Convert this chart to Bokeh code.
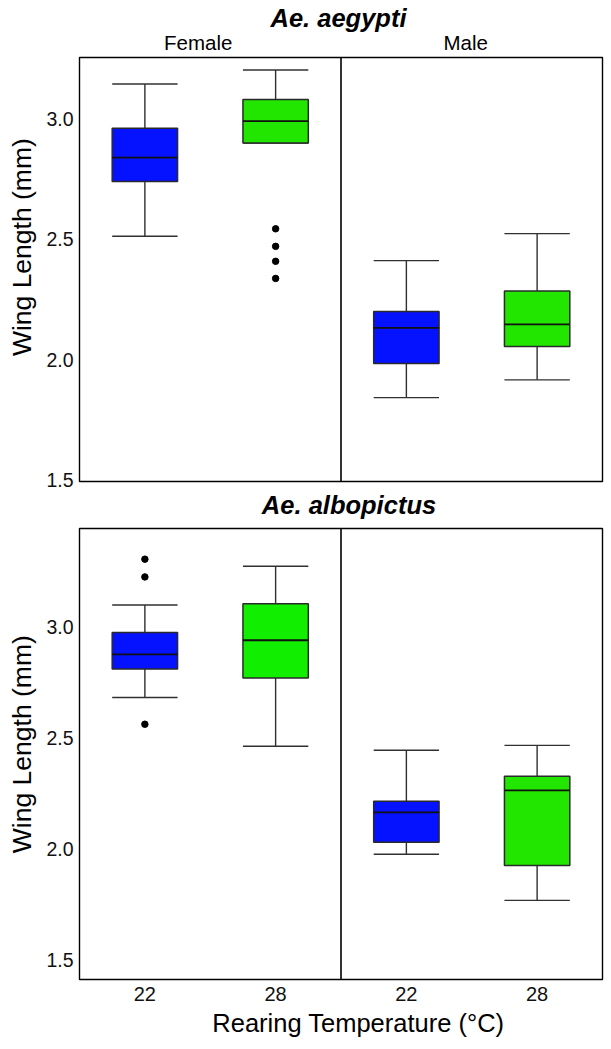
import math
from bokeh.plotting import figure
from bokeh.layouts import column, row
from bokeh.models import ColumnDataSource, Range1d, FixedTicker, Span, PrintfTickFormatter
from bokeh.core.properties import value
from bokeh.embed import file_html
from bokeh.resources import INLINE

# ---------------- data ----------------
sexes = ["Female", "Female", "Male", "Male"]
temps = ["22", "28", "22", "28"]
species = ["Ae. aegypti", "Ae. albopictus"]
y_title = "Wing Length (mm)"
x_title = "Rearing Temperature (°C)"
y_ticks = [1.5, 2.0, 2.5, 3.0]

# Ae. aegypti
aeg_upper = [3.144, 3.202, 2.411, 2.523]
aeg_q3 = [2.960, 3.080, 2.200, 2.285]
aeg_median = [2.838, 2.990, 2.132, 2.146]
aeg_q1 = [2.739, 2.899, 1.984, 2.054]
aeg_lower = [2.512, 2.899, 1.842, 1.916]
aeg_out_group = [1, 1, 1, 1]
aeg_out_value = [2.543, 2.470, 2.408, 2.337]

# Ae. albopictus
alb_upper = [3.099, 3.273, 2.445, 2.467]
alb_q3 = [2.975, 3.104, 2.215, 2.328]
alb_median = [2.876, 2.940, 2.165, 2.264]
alb_q1 = [2.811, 2.770, 2.031, 1.926]
alb_lower = [2.682, 2.463, 1.977, 1.769]
alb_out_group = [0, 0, 0]
alb_out_value = [3.305, 3.225, 2.562]

# ---------------- styling / layout ----------------
aeg_colors = ["#0512FF", "#22E600", "#0512FF", "#22E600"]
alb_colors = ["#0512FF", "#12EE00", "#0512FF", "#22E600"]
FONT = "Liberation Sans"
W = 611
STRIP_L = 40              # width of the strip holding the y title
LEFT, RIGHT = 79, 9       # page x of the frame's left edge, right margin
FRAME_W = W - LEFT - RIGHT
NG = len(temps)
X_RANGE = (0.0, float(NG))
PX = FRAME_W / NG          # pixels per x unit
BOX_W = 0.5
PAD = 2

# vertical page geometry
F1_TOP, F1_BOT = 57, 481
F2_TOP, F2_BOT = 528, 979
P1_BOTTOM_BORDER = 10
P2_BOTTOM_BORDER = 30
PAGE_H = 1049

xs = [i + 0.5 for i in range(NG)]


def make_panel(upper, q3, med, q1, lower, out_g, out_v, colors, yr, frame_h, bottom, show_x):
    p = figure(width=W - STRIP_L, height=frame_h + PAD + bottom, output_backend="svg",
               toolbar_location=None, title_location=None,
               x_range=Range1d(*X_RANGE), y_range=Range1d(*yr),
               x_axis_location="below" if show_x else None,
               min_border_left=LEFT - STRIP_L, min_border_right=RIGHT,
               min_border_top=PAD, min_border_bottom=bottom)
    p.xgrid.visible = False
    p.ygrid.visible = False
    p.outline_line_color = "black"
    p.outline_line_width = 1.4
    p.background_fill_color = "white"
    p.border_fill_color = "white"

    src = ColumnDataSource(dict(
        x=xs, xl=[x - BOX_W / 2 for x in xs], xr=[x + BOX_W / 2 for x in xs],
        upper=upper, q3=q3, med=med, q1=q1, lower=lower, color=colors))

    wk = dict(source=src, line_color="#303030", line_width=1.4)
    p.segment(x0="x", y0="q3", x1="x", y1="upper", **wk)
    p.segment(x0="x", y0="q1", x1="x", y1="lower", **wk)
    p.segment(x0="xl", y0="upper", x1="xr", y1="upper", **wk)
    p.segment(x0="xl", y0="lower", x1="xr", y1="lower", **wk)
    p.vbar(x="x", width=BOX_W, top="q3", bottom="q1", source=src,
           fill_color="color", line_color="#2a2a2a", line_width=1.5)
    p.segment(x0="xl", y0="med", x1="xr", y1="med", source=src, line_color="#111111", line_width=1.8)

    osrc = ColumnDataSource(dict(x=[g + 0.5 for g in out_g], y=out_v))
    p.scatter(x="x", y="y", source=osrc, size=6.5, color="black")

    p.add_layout(Span(location=X_RANGE[1] / 2, dimension="height", line_color="black", line_width=1.6))

    ya = p.yaxis[0]
    ya.ticker = FixedTicker(ticks=y_ticks)
    ya.formatter = PrintfTickFormatter(format="%.1f")
    ya.major_label_text_font = FONT
    ya.major_label_text_font_size = "19.5px"
    ya.major_label_text_color = "#111111"
    ya.major_tick_out = 0
    ya.major_tick_in = 0
    ya.minor_tick_out = 0
    ya.minor_tick_in = 0
    ya.axis_line_color = None
    ya.major_label_standoff = 6

    if show_x:
        xa = p.xaxis[0]
        xa.ticker = FixedTicker(ticks=xs)
        xa.major_label_overrides = {x: t for x, t in zip(xs, temps)}
        xa.major_label_text_font = FONT
        xa.major_label_text_font_size = "20px"
        xa.major_label_text_color = "#111111"
        xa.major_tick_out = 0
        xa.major_tick_in = 0
        xa.minor_tick_out = 0
        xa.minor_tick_in = 0
        xa.axis_line_color = None
        xa.major_label_standoff = 7
    return p


def strip(width, page_top, page_bottom, xr):
    # a text-only strip whose y data coordinate equals the page pixel row
    s = figure(width=width, height=page_bottom - page_top, output_backend="svg",
               toolbar_location=None, title_location=None,
               x_range=Range1d(*xr), y_range=Range1d(page_bottom, page_top),
               x_axis_location=None, y_axis_location=None, min_border=0)
    s.grid.visible = False
    s.outline_line_color = None
    s.background_fill_color = "white"
    s.border_fill_color = "white"
    return s


def put_text(s, x, y, txt, size, style="normal", angle=0.0):
    s.text(x=[x], y=[y], text=[txt], text_font=value(FONT), text_font_size=size,
           text_font_style=style, text_align="center", text_baseline="middle",
           text_color="black", angle=angle)


FULL_XR = (X_RANGE[0] - LEFT / PX, X_RANGE[1] + RIGHT / PX)
mid_x = (X_RANGE[0] + X_RANGE[1]) / 2
fem_x = sum(x for x, s in zip(xs, sexes) if s == "Female") / sexes.count("Female")
mal_x = sum(x for x, s in zip(xs, sexes) if s == "Male") / sexes.count("Male")

# ---- top strip: species title + sex labels
top = strip(W, 0, F1_TOP - PAD, FULL_XR)
put_text(top, mid_x - 2.5 / PX, 17.8, species[0], "25.5px", "bold italic")
put_text(top, fem_x - 12 / PX, 41.8, "Female", "20.5px")
put_text(top, mal_x - 6 / PX, 41.8, "Male", "20.5px")

# ---- top panel
YR1 = (1.494, 3.254)
p1 = make_panel(aeg_upper, aeg_q3, aeg_median, aeg_q1, aeg_lower, aeg_out_group, aeg_out_value,
                aeg_colors, YR1, F1_BOT - F1_TOP, P1_BOTTOM_BORDER, False)
left1 = strip(STRIP_L, F1_TOP - PAD, F1_BOT + P1_BOTTOM_BORDER, (0, STRIP_L))
put_text(left1, 21.7, 250, y_title, "26.5px", angle=math.pi / 2)

# ---- middle strip: second species title
mid = strip(W, F1_BOT + P1_BOTTOM_BORDER, F2_TOP - PAD, FULL_XR)
put_text(mid, mid_x + 8 / PX, 504.4, species[1], "25.5px", "bold italic")

# ---- bottom panel
YR2 = (1.413, 3.443)
p2 = make_panel(alb_upper, alb_q3, alb_median, alb_q1, alb_lower, alb_out_group, alb_out_value,
                alb_colors, YR2, F2_BOT - F2_TOP, P2_BOTTOM_BORDER, True)
left2 = strip(STRIP_L, F2_TOP - PAD, F2_BOT + P2_BOTTOM_BORDER, (0, STRIP_L))
put_text(left2, 21.7, 757, y_title, "26.5px", angle=math.pi / 2)

# ---- bottom strip: x title
bot = strip(W, F2_BOT + P2_BOTTOM_BORDER, PAGE_H, FULL_XR)
put_text(bot, mid_x + 17.4 / PX, 1022.8, x_title, "25.5px")

layout = column(top, row(left1, p1, spacing=0), mid, row(left2, p2, spacing=0), bot, spacing=0)
open("out.html", "w").write(file_html(layout, INLINE))
